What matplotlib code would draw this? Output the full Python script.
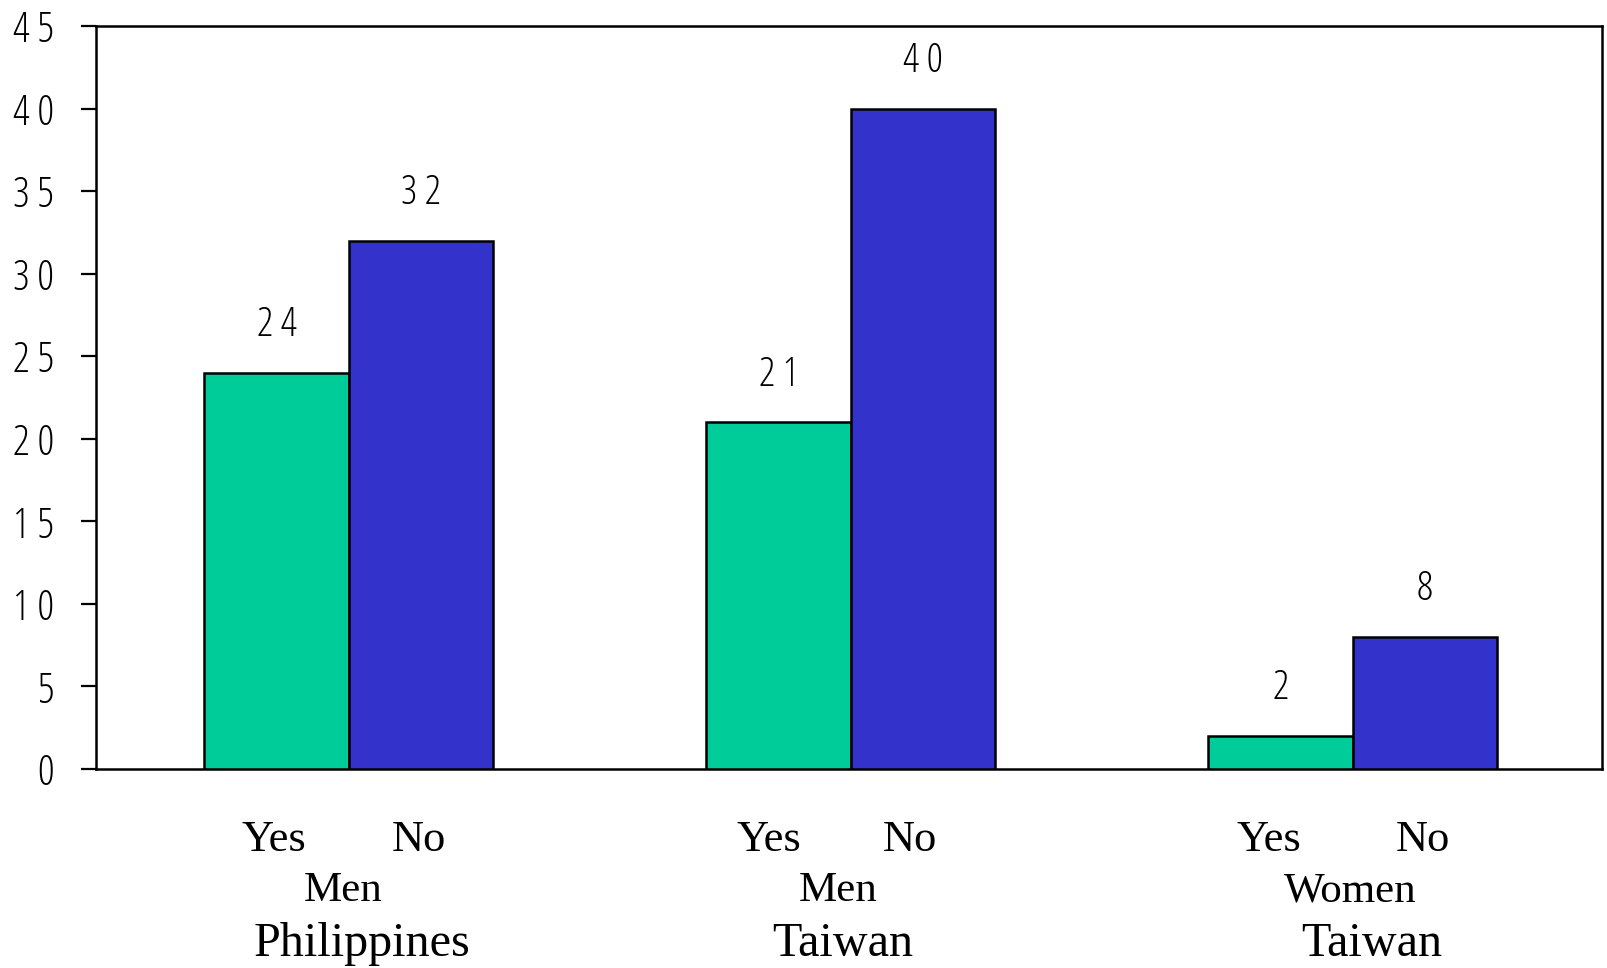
import matplotlib
matplotlib.use("Agg")
import matplotlib.pyplot as plt
from matplotlib import font_manager
import numpy as np

# Survey counts per group
groups = ["Philippines", "Taiwan", "Taiwan"]
sexes = ["Men", "Men", "Women"]
answers = ["Yes", "No"]
yes_counts = [24, 21, 2]
no_counts = [32, 40, 8]
y_ticks = [0, 5, 10, 15, 20, 25, 30, 35, 40, 45]

GREEN = "#00CC99"
BLUE = "#3333CC"
SERIF = "Liberation Serif"

# narrow, light face for the numbers, with spacing between digits
has_condensed = any(f.name == "Open Sans" and f.stretch == "condensed"
                    for f in font_manager.fontManager.ttflist)
if has_condensed:
    NUM = dict(fontfamily="Open Sans", fontstretch="condensed", fontweight=300, fontsize=30)
    SEP = " "
else:
    NUM = dict(fontfamily="DejaVu Sans Mono", fontsize=28)
    SEP = ""


def spaced(n):
    return SEP.join(str(n))


fig = plt.figure(figsize=(16.07, 9.68), dpi=100)
ax = fig.add_axes([96 / 1607, 1 - 769 / 968, (1602 - 96) / 1607, (769 - 26) / 968])

x = np.arange(len(groups))
w = 0.287
bars_yes = ax.bar(x - w / 2, yes_counts, w, color=GREEN, edgecolor="black", linewidth=1.8, zorder=3)
bars_no = ax.bar(x + w / 2, no_counts, w, color=BLUE, edgecolor="black", linewidth=1.8, zorder=3)

ax.set_xlim(-0.503, 2.497)
ax.set_ylim(0, 45)
ax.set_yticks(y_ticks)
ax.set_yticklabels([spaced(t) for t in y_ticks])
for lbl in ax.get_yticklabels():
    lbl.update(NUM)
ax.tick_params(axis="y", direction="out", length=11, width=1.6, pad=19, colors="black")
ax.set_xticks([])

for side in ["left", "right", "top", "bottom"]:
    ax.spines[side].set_linewidth(1.8)
    ax.spines[side].set_color("black")

# value labels above each bar
for bars, vals in ((bars_yes, yes_counts), (bars_no, no_counts)):
    for b, v in zip(bars, vals):
        t = ax.annotate(spaced(v), (b.get_x() + b.get_width() / 2, v),
                        xytext=(0, 34), textcoords="offset points",
                        ha="center", va="center")
        t.update(NUM)
        t.set_fontsize(NUM["fontsize"] - 1)

# category labels below the axis, with small per-label nudges
yes_dx = [-0.006, -0.020, -0.024]
no_dx = [-0.003, -0.025, -0.003]
sex_dx = [-0.011, -0.025, -0.005]
grp_dx = [0.027, -0.015, 0.038]

tr = ax.get_xaxis_transform()
for i in range(len(groups)):
    ax.text(x[i] - w / 2 + yes_dx[i], -0.110, answers[0], transform=tr, ha="center",
            va="baseline", fontfamily=SERIF, fontsize=32)
    ax.text(x[i] + w / 2 + no_dx[i], -0.110, answers[1], transform=tr, ha="center",
            va="baseline", fontfamily=SERIF, fontsize=32)
    ax.text(x[i] + sex_dx[i], -0.178, sexes[i], transform=tr, ha="center",
            va="baseline", fontfamily=SERIF, fontsize=31)
    ax.text(x[i] + grp_dx[i], -0.252, groups[i], transform=tr, ha="center",
            va="baseline", fontfamily=SERIF, fontsize=34.7)

fig.savefig("out.png", dpi=100, facecolor="white")
